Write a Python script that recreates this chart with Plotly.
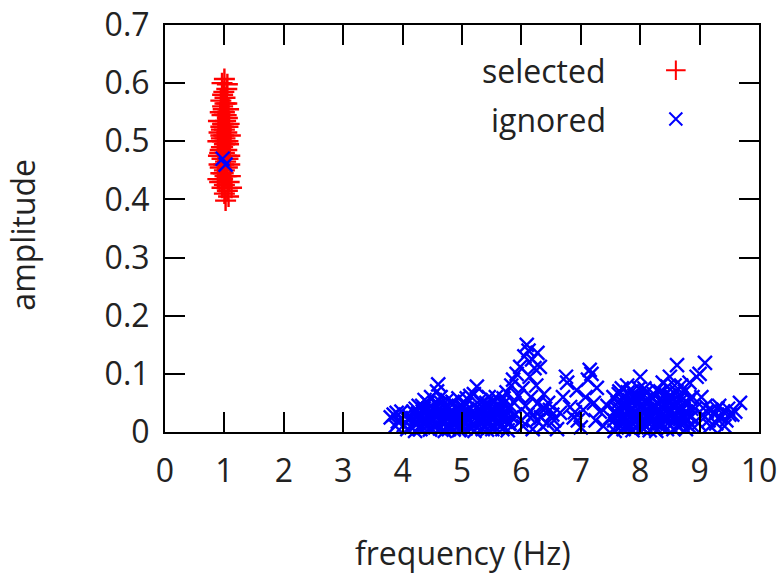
import plotly.graph_objects as go

# ---- data ----
selected_freq = [1.00, 0.96, 1.05, 0.99, 1.01, 0.94, 1.04, 0.97, 1.07, 0.93, 1.00, 0.96, 1.05, 0.90, 1.02,
                 0.97, 1.08, 0.94, 1.00, 0.91, 1.04, 0.99, 1.10, 0.95, 1.02, 0.89, 1.07, 0.97, 0.93, 1.04,
                 1.00, 0.90, 1.09, 0.96, 1.02, 0.99, 0.93, 1.05, 1.00, 0.94, 1.04, 0.89, 0.97, 1.08, 1.00,
                 0.96, 1.05, 1.12, 1.00, 1.07, 1.02, 0.98, 1.03, 0.98, 1.06, 0.94, 1.01, 0.97, 1.00, 0.95,
                 1.06, 0.98, 0.91, 1.10, 0.92, 1.01, 0.97, 1.04, 0.98, 1.03, 0.95, 1.06, 0.92, 1.09, 1.01]
selected_amp = [0.607, 0.600, 0.598, 0.585, 0.575, 0.570, 0.565, 0.560, 0.555, 0.550, 0.550, 0.545, 0.540, 0.535, 0.535,
                0.530, 0.530, 0.525, 0.520, 0.515, 0.515, 0.510, 0.510, 0.505, 0.500, 0.500, 0.495, 0.490, 0.485, 0.485,
                0.480, 0.475, 0.475, 0.470, 0.465, 0.460, 0.455, 0.455, 0.450, 0.445, 0.440, 0.435, 0.435, 0.430, 0.425,
                0.420, 0.415, 0.420, 0.410, 0.405, 0.398, 0.555, 0.545, 0.525, 0.525, 0.510, 0.505, 0.500, 0.495, 0.490,
                0.470, 0.445, 0.460, 0.440, 0.430, 0.440, 0.580, 0.590, 0.530, 0.475, 0.520, 0.500, 0.480, 0.460, 0.565]

ignored_freq = [0.97, 1.02,
                3.80, 3.85, 3.90, 3.92, 3.97, 4.02, 4.05, 4.10, 4.15, 4.18, 3.88, 3.98, 4.08, 4.13,
                4.22, 4.25, 4.28, 4.30, 4.33, 4.35, 4.38, 4.40, 4.42, 4.45, 4.48, 4.50, 4.52, 4.55, 4.58, 4.60,
                4.62, 4.65, 4.68, 4.70, 4.72, 4.75, 4.78, 4.80, 4.83, 4.85, 4.88, 4.90, 4.93, 4.95, 4.98, 5.00,
                5.03, 5.05, 5.08, 5.10, 5.13, 5.15, 5.18, 5.20, 5.22, 5.25, 5.28, 5.30, 5.33, 5.35, 5.38, 5.40,
                5.43, 5.45, 5.48, 5.50, 5.53, 5.55, 5.58, 5.60, 5.63, 5.65, 5.68, 5.70, 5.72, 5.75, 5.78, 5.80,
                4.21, 4.24, 4.27, 4.31, 4.34, 4.37, 4.41, 4.44, 4.47, 4.51,
                4.54, 4.57, 4.61, 4.64, 4.67, 4.71, 4.74, 4.77, 4.81, 4.84,
                4.87, 4.91, 4.94, 4.97, 5.01, 5.04, 5.07, 5.11, 5.14, 5.17,
                5.21, 5.24, 5.27, 5.31, 5.34, 5.37, 5.41, 5.44, 5.47, 5.51,
                5.54, 5.57, 5.61, 5.64, 5.67, 5.71, 5.74, 5.77, 5.81, 5.84,
                4.23, 4.26, 4.29, 4.32, 4.36, 4.39, 4.43, 4.46, 4.49, 4.53,
                4.56, 4.59, 4.63, 4.66, 4.69, 4.73, 4.76, 4.79, 4.82, 4.86,
                4.89, 4.92, 4.96, 4.99, 5.02, 5.06, 5.09, 5.12, 5.16, 5.19,
                5.23, 5.26, 5.29, 5.32, 5.36, 5.39, 5.42, 5.46, 5.49, 5.52,
                5.56, 5.59, 5.62, 5.66, 5.69, 5.73, 5.76, 5.79,
                5.83, 5.86, 5.88, 5.90, 5.92, 5.95, 5.98, 6.00, 6.02, 6.05, 6.07, 6.09, 6.12, 6.14, 6.16, 6.18,
                6.20, 6.22, 6.25, 6.27, 6.28, 6.31, 6.33, 6.36, 6.38, 6.40,
                6.03, 6.10, 6.19, 6.26, 6.35, 6.43, 6.52,
                6.45, 6.48, 6.55, 6.60, 6.65, 6.70, 6.75, 6.77, 6.82, 6.88, 6.90, 6.93, 6.95, 7.00,
                7.04, 7.08, 7.12, 7.15, 7.18, 7.22, 7.25, 7.27, 7.32, 7.38, 7.45, 7.50,
                7.55, 7.58, 7.60, 7.62, 7.65, 7.67, 7.70, 7.72, 7.74, 7.76, 7.78, 7.80, 7.82, 7.84, 7.86, 7.88,
                7.90, 7.92, 7.94, 7.96, 7.98, 8.00, 8.02, 8.04, 8.06, 8.08, 8.10, 8.12, 8.14, 8.16, 8.18, 8.20,
                8.22, 8.25, 8.28, 8.30, 8.32, 8.35, 8.38, 8.40, 8.42, 8.44, 8.46, 8.48, 8.50, 8.52, 8.54, 8.56,
                8.58, 8.60, 8.62, 8.64, 8.66, 8.68, 8.70, 8.72, 8.75, 8.78, 8.80, 8.83, 8.85, 8.88,
                7.57, 7.61, 7.64, 7.68, 7.71, 7.75, 7.79, 7.83, 7.87, 7.91,
                7.95, 7.99, 8.03, 8.07, 8.11, 8.15, 8.19, 8.23, 8.27, 8.31,
                8.34, 8.37, 8.41, 8.45, 8.49, 8.53, 8.57, 8.61, 8.65, 8.69,
                8.73, 8.77, 8.81, 8.84, 8.87, 7.63, 7.77, 7.93, 8.09, 8.26,
                8.43, 8.59, 8.74, 7.69, 7.85, 8.01, 8.17, 8.33, 8.51, 8.67,
                7.56, 7.59, 7.66, 7.73, 7.81, 7.89, 7.97, 8.05, 8.13, 8.21,
                8.29, 8.36, 8.39, 8.47, 8.55, 8.63, 8.71, 8.79, 8.86, 7.62,
                7.70, 7.78, 7.86, 7.94, 8.02, 8.10, 8.18, 8.24, 8.32, 8.40,
                8.48, 8.56, 8.64, 8.72, 8.82, 7.74, 7.90, 8.06, 8.22, 8.38,
                8.92, 8.95, 8.98, 9.00, 9.03, 9.05, 9.09, 9.10, 9.15, 9.20, 9.25, 9.30, 9.35, 9.40, 9.45, 9.50,
                9.12, 9.18, 9.28, 9.33, 9.42, 9.48, 9.55, 9.60, 9.68]
ignored_amp = [0.470, 0.460,
               0.025, 0.030, 0.033, 0.018, 0.024, 0.012, 0.028, 0.020, 0.008, 0.035, 0.010, 0.035, 0.005, 0.025,
               0.040, 0.015, 0.030, 0.005, 0.045, 0.022, 0.035, 0.010, 0.050, 0.028, 0.060, 0.018, 0.040, 0.008, 0.070, 0.082,
               0.032, 0.050, 0.015, 0.042, 0.025, 0.055, 0.005, 0.035, 0.020, 0.048, 0.012, 0.030, 0.040, 0.003, 0.025, 0.045,
               0.015, 0.035, 0.058, 0.022, 0.008, 0.040, 0.030, 0.065, 0.012, 0.078, 0.038, 0.020, 0.050, 0.005, 0.030, 0.045,
               0.015, 0.060, 0.025, 0.040, 0.010, 0.052, 0.030, 0.018, 0.045, 0.035, 0.005, 0.058, 0.025, 0.068, 0.040, 0.015,
               0.002, 0.025, 0.045, 0.012, 0.035, 0.055, 0.020, 0.040, 0.008, 0.030,
               0.050, 0.015, 0.038, 0.060, 0.022, 0.002, 0.045, 0.028, 0.010, 0.052,
               0.033, 0.018, 0.058, 0.005, 0.040, 0.025, 0.048, 0.012, 0.062, 0.030,
               0.002, 0.042, 0.020, 0.055, 0.035, 0.010, 0.050, 0.028, 0.045, 0.005,
               0.038, 0.060, 0.020, 0.040, 0.012, 0.050, 0.030, 0.003, 0.045, 0.025,
               0.018, 0.032, 0.008, 0.025, 0.040, 0.015, 0.030, 0.004, 0.022, 0.038,
               0.012, 0.028, 0.006, 0.035, 0.020, 0.042, 0.010, 0.030, 0.018, 0.004,
               0.025, 0.040, 0.012, 0.032, 0.020, 0.006, 0.036, 0.022, 0.028, 0.014,
               0.030, 0.008, 0.040, 0.018, 0.024, 0.038, 0.004, 0.016, 0.034, 0.022,
               0.008, 0.028, 0.036, 0.012, 0.026, 0.018, 0.040, 0.014,
               0.080, 0.090, 0.050, 0.030, 0.100, 0.062, 0.112, 0.020, 0.075, 0.130, 0.045, 0.150, 0.140, 0.095, 0.060, 0.125,
               0.030, 0.110, 0.080, 0.136, 0.050, 0.112, 0.025, 0.009, 0.065, 0.040,
               0.010, 0.030, 0.005, 0.020, 0.040, 0.015, 0.030,
               0.050, 0.038, 0.020, 0.005, 0.033, 0.060, 0.095, 0.085, 0.043, 0.025, 0.034, 0.072, 0.020, 0.008,
               0.038, 0.060, 0.090, 0.107, 0.100, 0.050, 0.020, 0.076, 0.035, 0.010, 0.045, 0.025,
               0.060, 0.035, 0.010, 0.050, 0.070, 0.025, 0.045, 0.005, 0.060, 0.030, 0.080, 0.015, 0.055, 0.040, 0.070, 0.020,
               0.062, 0.035, 0.008, 0.050, 0.075, 0.095, 0.028, 0.060, 0.042, 0.012, 0.068, 0.030, 0.050, 0.003, 0.040, 0.060,
               0.020, 0.045, 0.072, 0.030, 0.055, 0.010, 0.085, 0.040, 0.065, 0.025, 0.078, 0.050, 0.095, 0.035, 0.060, 0.005,
               0.080, 0.045, 0.115, 0.025, 0.065, 0.040, 0.055, 0.015, 0.070, 0.035, 0.050, 0.085, 0.025, 0.060,
               0.002, 0.040, 0.065, 0.020, 0.050, 0.010, 0.068, 0.035, 0.003, 0.045,
               0.022, 0.060, 0.008, 0.075, 0.040, 0.055, 0.018, 0.065, 0.002, 0.048,
               0.070, 0.015, 0.050, 0.005, 0.062, 0.028, 0.045, 0.070, 0.010, 0.080,
               0.040, 0.005, 0.030, 0.058, 0.012, 0.030, 0.045, 0.020, 0.055, 0.015,
               0.035, 0.020, 0.050, 0.075, 0.028, 0.042, 0.025, 0.038, 0.060, 0.022,
               0.020, 0.030, 0.040, 0.025, 0.008, 0.052, 0.030, 0.015, 0.025, 0.040,
               0.015, 0.030, 0.048, 0.015, 0.025, 0.010, 0.030, 0.022, 0.040, 0.028,
               0.012, 0.050, 0.015, 0.058, 0.018, 0.035, 0.060, 0.010, 0.015, 0.025,
               0.035, 0.045, 0.055, 0.025, 0.010, 0.042, 0.022, 0.005, 0.038, 0.055,
               0.040, 0.095, 0.015, 0.100, 0.060, 0.030, 0.119, 0.045, 0.020, 0.038, 0.030, 0.040, 0.025, 0.035, 0.020, 0.030,
               0.035, 0.010, 0.015, 0.045, 0.010, 0.040, 0.030, 0.035, 0.050]

series_names = ["selected", "ignored"]
x_ticks = [0, 1, 2, 3, 4, 5, 6, 7, 8, 9, 10]
y_ticks = [0, 0.1, 0.2, 0.3, 0.4, 0.5, 0.6, 0.7]
legend_key_x = [0.86]
legend_key_y = [[0.889], [0.769]]

FONT = "Open Sans"
FS = 32
TXT = "#222222"
RED = "#ff0000"
BLUE = "#0000ff"

fig = go.Figure()
fig.add_trace(go.Scatter(
    x=selected_freq, y=selected_amp, mode="markers", name=series_names[0],
    marker=dict(symbol="cross-thin", size=15, line=dict(color=RED, width=2.4)),
    cliponaxis=False, showlegend=False))
fig.add_trace(go.Scatter(
    x=ignored_freq, y=ignored_amp, mode="markers", name=series_names[1],
    marker=dict(symbol="x-thin", size=14, line=dict(color=BLUE, width=2.4)),
    cliponaxis=False, showlegend=False))

# legend keys drawn on an overlay axis spanning the plot area (0..1)
fig.add_trace(go.Scatter(
    x=legend_key_x, y=legend_key_y[0], mode="markers", xaxis="x2", yaxis="y2",
    marker=dict(symbol="cross-thin", size=14, line=dict(color=RED, width=2)),
    showlegend=False, hoverinfo="skip"))
fig.add_trace(go.Scatter(
    x=legend_key_x, y=legend_key_y[1], mode="markers", xaxis="x2", yaxis="y2",
    marker=dict(symbol="x-thin", size=13, line=dict(color=BLUE, width=2)),
    showlegend=False, hoverinfo="skip"))

for name, yy in zip(series_names, legend_key_y):
    fig.add_annotation(x=0.746, y=yy[0], xref="paper", yref="paper", text=name,
                       showarrow=False, xanchor="right", yanchor="middle",
                       font=dict(family=FONT, size=FS, color=TXT))

# axis titles
fig.add_annotation(x=0.5017, y=-0.295, xref="paper", yref="paper", text="frequency (Hz)",
                   showarrow=False, xanchor="center", yanchor="middle",
                   font=dict(family=FONT, size=FS, color=TXT))
fig.add_annotation(x=-0.240, y=0.486, xref="paper", yref="paper", text="amplitude",
                   showarrow=False, xanchor="center", yanchor="middle", textangle=-90,
                   font=dict(family=FONT, size=FS, color=TXT))

axis_common = dict(
    showline=True, linecolor="black", linewidth=2, mirror="allticks",
    ticks="inside", ticklen=20, tickwidth=2, tickcolor="black",
    showgrid=False, zeroline=False, automargin=False,
    tickfont=dict(family=FONT, size=FS, color=TXT),
)

fig.update_layout(
    width=782, height=575,
    margin=dict(l=165, r=23, t=25, b=143),
    plot_bgcolor="white", paper_bgcolor="white",
    showlegend=False,
    xaxis=dict(range=[0, 10], tickvals=x_ticks, ticktext=[str(v) for v in x_ticks],
               ticklabelstandoff=10, **axis_common),
    yaxis=dict(range=[0, 0.7], tickvals=y_ticks, ticktext=[f"{v:g}" for v in y_ticks],
               ticklabelstandoff=7, **axis_common),
    xaxis2=dict(range=[0, 1], overlaying="x", visible=False, fixedrange=True),
    yaxis2=dict(range=[0, 1], overlaying="y", visible=False, fixedrange=True),
)

fig.write_html("out.html")
